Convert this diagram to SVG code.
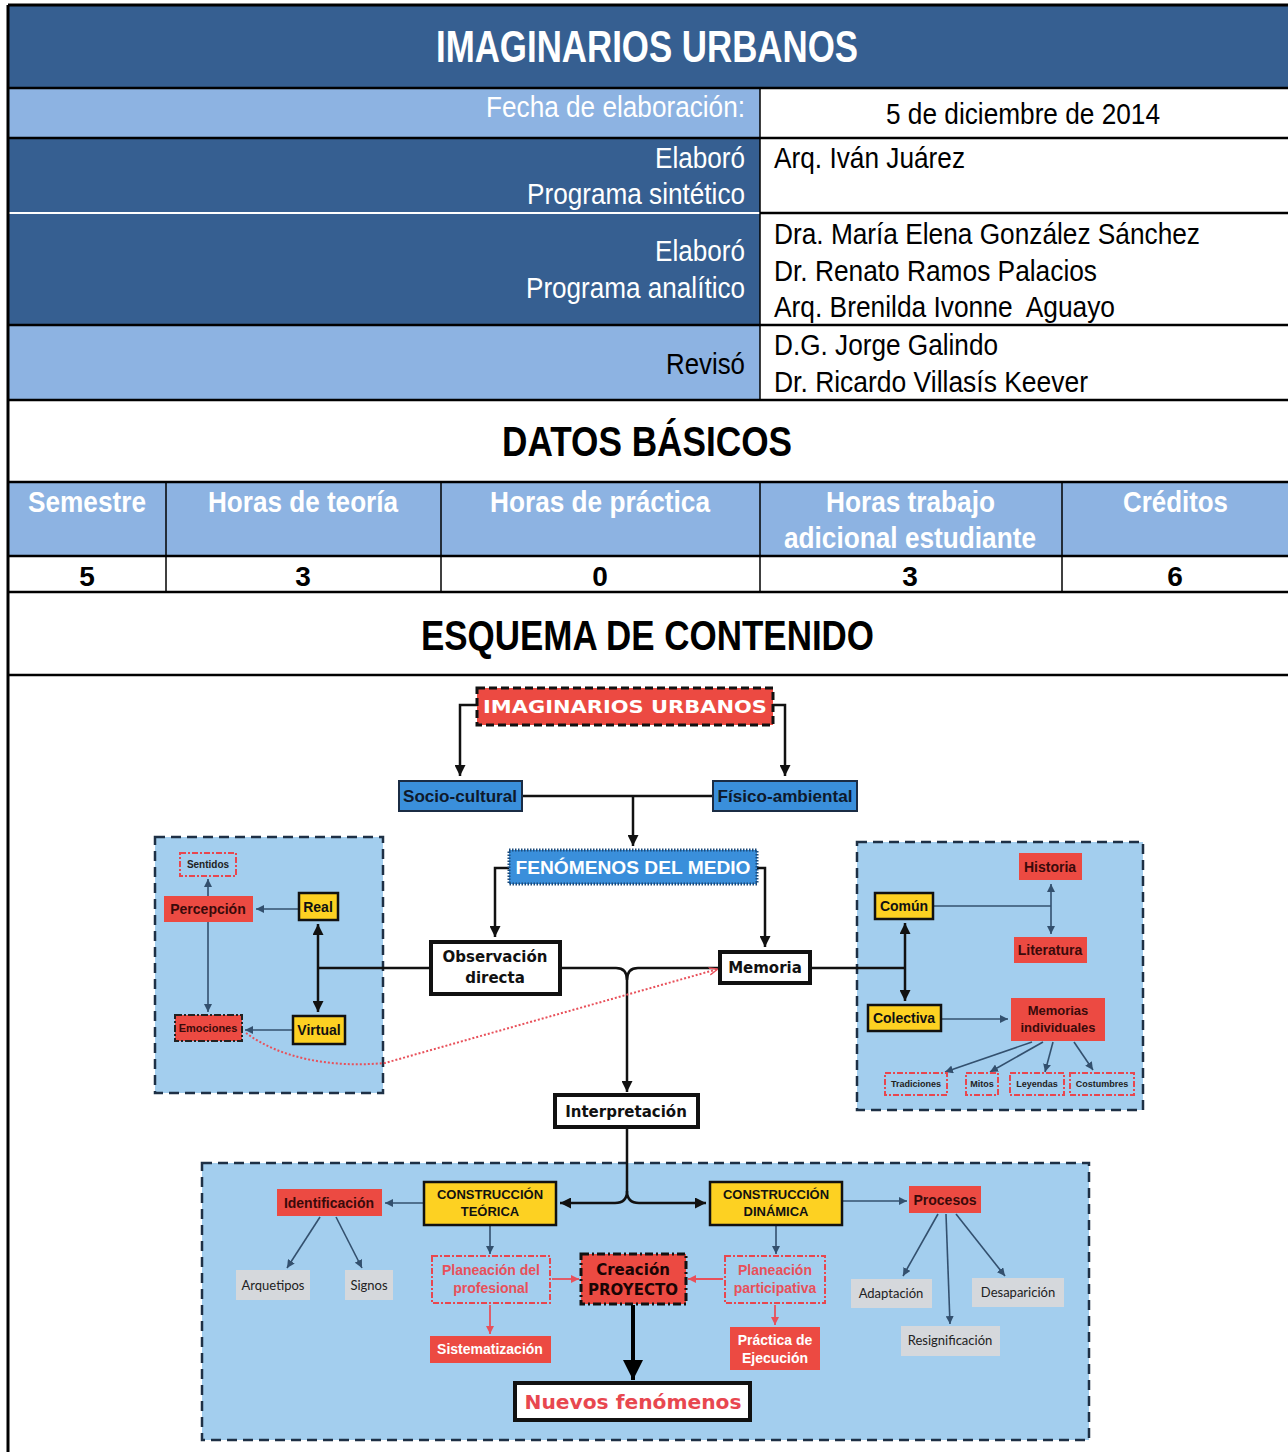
<svg xmlns="http://www.w3.org/2000/svg" width="1288" height="1452" viewBox="0 0 1288 1452">
<defs>
<style>
.tw{font-family:"Liberation Sans Narrow","Liberation Sans",Arial,sans-serif;font-size:30px;fill:#fff}
.tk{font-family:"Liberation Sans Narrow","Liberation Sans",Arial,sans-serif;font-size:30px;fill:#000}
.b{font-weight:bold}
.vb{font-family:"DejaVu Sans",Verdana,sans-serif;font-weight:bold}
.ab{font-family:"Liberation Sans",Arial,sans-serif;font-weight:bold}
.gr{font-family:"Lato","Noto Sans",sans-serif;font-size:13px;fill:#222}
.red{fill:#EC4A42}
.yel{fill:#FDD122;stroke:#111;stroke-width:2.5}
.gray{fill:#D5D8DC}
.dred{fill:none;stroke:#E8474F;stroke-width:2;stroke-dasharray:6 2 2 2}
.panel{fill:#A3CEEE;stroke:#1E3045;stroke-width:2.5;stroke-dasharray:10 6}
.cb{fill:none;stroke:#111;stroke-width:2.5}
.cn{fill:none;stroke:#33506E;stroke-width:1.6}
.cr{fill:none;stroke:#E8505A;stroke-width:1.8}
.hl{stroke:#000;stroke-width:2.5}
.vl{stroke:#000;stroke-width:1.5}
</style>
<marker id="aB" viewBox="0 0 10 10" refX="10" refY="5" markerWidth="11" markerHeight="11" markerUnits="userSpaceOnUse" orient="auto-start-reverse"><path d="M0,0 L10,5 L0,10 z" fill="#111"/></marker>
<marker id="aBig" viewBox="0 0 10 10" refX="10" refY="5" markerWidth="20" markerHeight="20" markerUnits="userSpaceOnUse" orient="auto"><path d="M0,0 L10,5 L0,10 z" fill="#000"/></marker>
<marker id="aN" viewBox="0 0 10 10" refX="10" refY="5" markerWidth="8" markerHeight="8" markerUnits="userSpaceOnUse" orient="auto-start-reverse"><path d="M0,0 L10,5 L0,10 z" fill="#33506E"/></marker>
<marker id="aR" viewBox="0 0 10 10" refX="10" refY="5" markerWidth="8" markerHeight="8" markerUnits="userSpaceOnUse" orient="auto"><path d="M0,0 L10,5 L0,10 z" fill="#E8505A"/></marker>
<marker id="aRo" viewBox="0 0 10 10" refX="10" refY="5" markerWidth="9" markerHeight="9" markerUnits="userSpaceOnUse" orient="auto"><path d="M0,1 L10,5 L0,9" fill="none" stroke="#E8505A" stroke-width="1.5"/></marker>
</defs>

<rect x="0" y="0" width="1288" height="1452" fill="#fff"/>

<g id="table">
<rect x="8" y="5" width="1280" height="83" fill="#365F91"/>
<rect x="8" y="88" width="752" height="50" fill="#8DB3E2"/>
<rect x="8" y="138" width="752" height="187" fill="#365F91"/>
<rect x="8" y="325" width="752" height="75" fill="#8DB3E2"/>
<rect x="8" y="482" width="1280" height="74" fill="#8DB3E2"/>

<line x1="8" y1="5" x2="1288" y2="5" stroke="#000" stroke-width="3"/>
<line class="hl" x1="8" y1="88" x2="1288" y2="88" stroke-width="3"/>
<line class="hl" x1="8" y1="138" x2="1288" y2="138"/>
<line x1="8" y1="213" x2="760" y2="213" stroke="#fff" stroke-width="2"/>
<line class="hl" x1="760" y1="213" x2="1288" y2="213"/>
<line class="hl" x1="8" y1="325" x2="1288" y2="325"/>
<line class="hl" x1="8" y1="400" x2="1288" y2="400"/>
<line class="hl" x1="8" y1="482" x2="1288" y2="482" stroke-width="3"/>
<line class="hl" x1="8" y1="556" x2="1288" y2="556" stroke-width="1.8"/>
<line class="hl" x1="8" y1="592" x2="1288" y2="592" stroke-width="3"/>
<line class="hl" x1="8" y1="675" x2="1288" y2="675" stroke-width="3"/>
<line x1="8" y1="5" x2="8" y2="1452" stroke="#000" stroke-width="3"/>
<line class="vl" x1="760" y1="88" x2="760" y2="400" stroke-width="2"/>
<line class="vl" x1="166" y1="482" x2="166" y2="592"/>
<line class="vl" x1="441" y1="482" x2="441" y2="592"/>
<line class="vl" x1="760" y1="482" x2="760" y2="592"/>
<line class="vl" x1="1062" y1="482" x2="1062" y2="592"/>

<text class="tw b" x="436" y="62" textLength="422" lengthAdjust="spacingAndGlyphs" style="font-size:45px">IMAGINARIOS URBANOS</text>
<text class="tw" x="486" y="117" textLength="259" lengthAdjust="spacingAndGlyphs">Fecha de elaboración:</text>
<text class="tk" x="886" y="124" textLength="274" lengthAdjust="spacingAndGlyphs">5 de diciembre de 2014</text>
<text class="tw" x="655" y="168" textLength="90" lengthAdjust="spacingAndGlyphs">Elaboró</text>
<text class="tw" x="527" y="204" textLength="218" lengthAdjust="spacingAndGlyphs">Programa sintético</text>
<text class="tk" x="774" y="168" textLength="191" lengthAdjust="spacingAndGlyphs">Arq. Iván Juárez</text>
<text class="tw" x="655" y="261" textLength="90" lengthAdjust="spacingAndGlyphs">Elaboró</text>
<text class="tw" x="526" y="298" textLength="219" lengthAdjust="spacingAndGlyphs">Programa analítico</text>
<text class="tk" x="774" y="244" textLength="426" lengthAdjust="spacingAndGlyphs">Dra. María Elena González Sánchez</text>
<text class="tk" x="774" y="281" textLength="323" lengthAdjust="spacingAndGlyphs">Dr. Renato Ramos Palacios</text>
<text class="tk" x="774" y="317" textLength="341" lengthAdjust="spacingAndGlyphs" xml:space="preserve">Arq. Brenilda Ivonne  Aguayo</text>
<text class="tk" x="666" y="374" textLength="79" lengthAdjust="spacingAndGlyphs">Revisó</text>
<text class="tk" x="774" y="355" textLength="224" lengthAdjust="spacingAndGlyphs">D.G. Jorge Galindo</text>
<text class="tk" x="774" y="392" textLength="314" lengthAdjust="spacingAndGlyphs">Dr. Ricardo Villasís Keever</text>
<text class="tk b" x="502" y="456" textLength="290" lengthAdjust="spacingAndGlyphs" style="font-size:42px">DATOS BÁSICOS</text>
<text class="tw b" x="28" y="512" textLength="118" lengthAdjust="spacingAndGlyphs">Semestre</text>
<text class="tw b" x="208" y="512" textLength="190" lengthAdjust="spacingAndGlyphs">Horas de teoría</text>
<text class="tw b" x="490" y="512" textLength="220" lengthAdjust="spacingAndGlyphs">Horas de práctica</text>
<text class="tw b" x="826" y="512" textLength="169" lengthAdjust="spacingAndGlyphs">Horas trabajo</text>
<text class="tw b" x="784" y="548" textLength="252" lengthAdjust="spacingAndGlyphs">adicional estudiante</text>
<text class="tw b" x="1123" y="512" textLength="105" lengthAdjust="spacingAndGlyphs">Créditos</text>
<g class="tk b" text-anchor="middle" style="font-size:28px">
<text x="87" y="586">5</text>
<text x="303" y="586">3</text>
<text x="600" y="586">0</text>
<text x="910" y="586">3</text>
<text x="1175" y="586">6</text>
</g>
<text class="tk b" x="421" y="650" textLength="453" lengthAdjust="spacingAndGlyphs" style="font-size:42px">ESQUEMA DE CONTENIDO</text>
</g>

<g id="panels">
<rect class="panel" x="155" y="837" width="228" height="256"/>
<rect class="panel" x="857" y="842" width="286" height="268"/>
<rect class="panel" x="202" y="1163" width="887" height="277"/>
</g>

<g id="connectors">
<path class="cb" d="M477,705 H460 V776" marker-end="url(#aB)"/>
<path class="cb" d="M773,705 H785 V776" marker-end="url(#aB)"/>
<path class="cb" d="M522,796 H713"/>
<path class="cb" d="M633,796 V846" marker-end="url(#aB)"/>
<path class="cb" d="M509,868 H495 V937" marker-end="url(#aB)"/>
<path class="cb" d="M757,868 H765 V947" marker-end="url(#aB)"/>
<path class="cb" d="M318,968 H431"/>
<path class="cb" d="M810,968 H905"/>
<path class="cb" d="M560,968 H616 Q627,968 627,980 V1092" marker-end="url(#aB)"/>
<path class="cb" d="M720,968 H638 Q627,968 627,980"/>
<path class="cb" d="M627,1127 V1191 Q627,1203 615,1203 H560" marker-end="url(#aB)"/>
<path class="cb" d="M627,1191 Q627,1203 639,1203 H706" marker-end="url(#aB)"/>
<path class="cb" d="M318,924 V1012" stroke-width="3" marker-start="url(#aB)" marker-end="url(#aB)"/>
<path class="cb" d="M905,923 V1001" stroke-width="3" marker-start="url(#aB)" marker-end="url(#aB)"/>
<path class="cn" d="M299,909 H256" marker-end="url(#aN)"/>
<path class="cn" d="M208,896 V879" marker-end="url(#aN)"/>
<path class="cn" d="M208,922 V1012" marker-end="url(#aN)"/>
<path class="cn" d="M293,1030 H245" marker-end="url(#aN)"/>
<path class="cn" d="M933,906 H1051"/>
<path class="cn" d="M1051,884 V934" marker-start="url(#aN)" marker-end="url(#aN)"/>
<path class="cn" d="M941,1019 H1008" marker-end="url(#aN)"/>
<path class="cn" d="M1032,1042 L945,1072" marker-end="url(#aN)"/>
<path class="cn" d="M1043,1042 L990,1072" marker-end="url(#aN)"/>
<path class="cn" d="M1053,1042 L1045,1072" marker-end="url(#aN)"/>
<path class="cn" d="M1074,1042 L1093,1070" marker-end="url(#aN)"/>
<path d="M246,1033 C280,1058 330,1068 385,1063 L718,969" fill="none" stroke="#E8505A" stroke-width="2" stroke-dasharray="2 2" marker-end="url(#aRo)"/>
<path class="cn" d="M424,1203 H385" marker-end="url(#aN)"/>
<path class="cn" d="M320,1217 L287,1268" marker-end="url(#aN)"/>
<path class="cn" d="M336,1217 L362,1268" marker-end="url(#aN)"/>
<path class="cn" d="M490,1226 V1254" marker-end="url(#aN)"/>
<path class="cn" d="M776,1226 V1254" marker-end="url(#aN)"/>
<path class="cn" d="M842,1201 H907" marker-end="url(#aN)"/>
<path class="cn" d="M938,1214 L903,1276" marker-end="url(#aN)"/>
<path class="cn" d="M946,1214 L950,1324" marker-end="url(#aN)"/>
<path class="cn" d="M956,1214 L1005,1276" marker-end="url(#aN)"/>
<path class="cr" d="M552,1279 H579" marker-end="url(#aR)"/>
<path class="cr" d="M723,1279 H688" marker-end="url(#aR)"/>
<path class="cr" d="M490,1305 V1334" marker-end="url(#aR)"/>
<path class="cr" d="M775,1305 V1325" marker-end="url(#aR)"/>
<path d="M633,1305 V1380" fill="none" stroke="#000" stroke-width="4" marker-end="url(#aBig)"/>
</g>

<g id="n-imaginarios">
<rect x="477" y="688" width="296" height="37" fill="#EC4A42" stroke="#111" stroke-width="3" stroke-dasharray="8 4"/>
<text class="vb" x="625" y="713" text-anchor="middle" font-size="18" fill="#fff" textLength="284" lengthAdjust="spacingAndGlyphs">IMAGINARIOS URBANOS</text>
</g>
<g id="n-socio">
<rect x="399" y="781" width="123" height="30" fill="#3A8FDB" stroke="#1B2C44" stroke-width="2"/>
<text class="ab" x="460" y="802" text-anchor="middle" font-size="16.5" fill="#0E1A2C" textLength="114" lengthAdjust="spacingAndGlyphs">Socio-cultural</text>
</g>
<g id="n-fisico">
<rect x="713" y="781" width="144" height="30" fill="#3A8FDB" stroke="#1B2C44" stroke-width="2"/>
<text class="ab" x="785" y="802" text-anchor="middle" font-size="16.5" fill="#0E1A2C" textLength="135" lengthAdjust="spacingAndGlyphs">Físico-ambiental</text>
</g>
<g id="n-fenomenos">
<rect x="509" y="850" width="248" height="34" fill="#3A8FDB" stroke="#1B4A7A" stroke-width="3" stroke-dasharray="1.5 1.5"/>
<text class="ab" x="633" y="874" text-anchor="middle" font-size="19" fill="#fff" textLength="235" lengthAdjust="spacingAndGlyphs">FENÓMENOS DEL MEDIO</text>
</g>
<g id="n-observacion">
<rect x="431" y="942" width="129" height="52" fill="#fff" stroke="#111" stroke-width="4"/>
<text class="vb" x="495" y="962" text-anchor="middle" font-size="15" fill="#111">Observación</text>
<text class="vb" x="495" y="983" text-anchor="middle" font-size="15" fill="#111">directa</text>
</g>
<g id="n-memoria">
<rect x="720" y="952" width="90" height="31" fill="#fff" stroke="#111" stroke-width="4"/>
<text class="vb" x="765" y="973" text-anchor="middle" font-size="15" fill="#111">Memoria</text>
</g>
<g id="n-interpretacion">
<rect x="555" y="1095" width="143" height="32" fill="#fff" stroke="#111" stroke-width="4"/>
<text class="vb" x="626" y="1117" text-anchor="middle" font-size="15" fill="#111">Interpretación</text>
</g>

<g id="n-sentidos">
<rect class="dred" x="180" y="853" width="56" height="23"/>
<text class="ab" x="208" y="868" text-anchor="middle" font-size="10" fill="#222">Sentidos</text>
</g>
<g id="n-percepcion">
<rect class="red" x="164" y="896" width="89" height="26"/>
<text class="ab" x="208" y="914" text-anchor="middle" font-size="14" fill="#3A0A0A">Percepción</text>
</g>
<g id="n-real">
<rect class="yel" x="299" y="893" width="39" height="27"/>
<text class="ab" x="318" y="912" text-anchor="middle" font-size="14" fill="#111">Real</text>
</g>
<g id="n-virtual">
<rect class="yel" x="293" y="1016" width="52" height="28"/>
<text class="ab" x="319" y="1035" text-anchor="middle" font-size="14" fill="#111">Virtual</text>
</g>
<g id="n-emociones">
<rect x="175" y="1015" width="67" height="26" fill="#EC4A42" stroke="#222" stroke-width="2" stroke-dasharray="7 2 2 2"/>
<text class="ab" x="208" y="1032" text-anchor="middle" font-size="11" fill="#3A0A0A">Emociones</text>
</g>

<g id="n-historia">
<rect class="red" x="1019" y="853" width="63" height="27"/>
<text class="ab" x="1050" y="872" text-anchor="middle" font-size="14" fill="#3A0A0A">Historia</text>
</g>
<g id="n-comun">
<rect class="yel" x="875" y="893" width="58" height="26"/>
<text class="ab" x="904" y="911" text-anchor="middle" font-size="14" fill="#111">Común</text>
</g>
<g id="n-literatura">
<rect class="red" x="1014" y="937" width="73" height="26"/>
<text class="ab" x="1050" y="955" text-anchor="middle" font-size="14" fill="#3A0A0A">Literatura</text>
</g>
<g id="n-colectiva">
<rect class="yel" x="868" y="1005" width="73" height="26"/>
<text class="ab" x="904" y="1023" text-anchor="middle" font-size="14" fill="#111">Colectiva</text>
</g>
<g id="n-memorias">
<rect class="red" x="1011" y="998" width="94" height="43"/>
<text class="ab" x="1058" y="1015" text-anchor="middle" font-size="13" fill="#3A0A0A">Memorias</text>
<text class="ab" x="1058" y="1032" text-anchor="middle" font-size="13" fill="#3A0A0A">individuales</text>
</g>
<g id="n-tradiciones">
<rect class="dred" x="885" y="1073" width="62" height="22"/>
<text class="ab" x="916" y="1087" text-anchor="middle" font-size="9" fill="#222">Tradiciones</text>
</g>
<g id="n-mitos">
<rect class="dred" x="966" y="1073" width="32" height="22"/>
<text class="ab" x="982" y="1087" text-anchor="middle" font-size="9" fill="#222">Mitos</text>
</g>
<g id="n-leyendas">
<rect class="dred" x="1010" y="1073" width="54" height="22"/>
<text class="ab" x="1037" y="1087" text-anchor="middle" font-size="9" fill="#222">Leyendas</text>
</g>
<g id="n-costumbres">
<rect class="dred" x="1070" y="1073" width="64" height="22"/>
<text class="ab" x="1102" y="1087" text-anchor="middle" font-size="9" fill="#222">Costumbres</text>
</g>

<g id="n-teorica">
<rect class="yel" x="424" y="1182" width="132" height="43"/>
<text class="ab" x="490" y="1199" text-anchor="middle" font-size="13" fill="#111">CONSTRUCCIÓN</text>
<text class="ab" x="490" y="1216" text-anchor="middle" font-size="13" fill="#111">TEÓRICA</text>
</g>
<g id="n-identificacion">
<rect class="red" x="277" y="1189" width="105" height="27"/>
<text class="ab" x="329" y="1208" text-anchor="middle" font-size="14" fill="#3A0A0A">Identificación</text>
</g>
<g id="n-arquetipos">
<rect class="gray" x="236" y="1270" width="74" height="30"/>
<text class="gr" x="273" y="1290" text-anchor="middle">Arquetipos</text>
</g>
<g id="n-signos">
<rect class="gray" x="345" y="1270" width="48" height="30"/>
<text class="gr" x="369" y="1290" text-anchor="middle">Signos</text>
</g>
<g id="n-plan-prof">
<rect class="dred" x="432" y="1256" width="118" height="47"/>
<text class="ab" x="491" y="1275" text-anchor="middle" font-size="14" fill="#E8505A">Planeación del</text>
<text class="ab" x="491" y="1293" text-anchor="middle" font-size="14" fill="#E8505A">profesional</text>
</g>
<g id="n-sistematizacion">
<rect class="red" x="430" y="1336" width="121" height="27"/>
<text class="ab" x="490" y="1354" text-anchor="middle" font-size="14" fill="#fff">Sistematización</text>
</g>
<g id="n-creacion">
<rect x="581" y="1254" width="105" height="50" fill="#EC4A42" stroke="#111" stroke-width="3" stroke-dasharray="8 3 2 3"/>
<text class="vb" x="633" y="1275" text-anchor="middle" font-size="15" fill="#1A0505">Creación</text>
<text class="vb" x="633" y="1295" text-anchor="middle" font-size="15" fill="#1A0505">PROYECTO</text>
</g>
<g id="n-nuevos">
<rect x="515" y="1383" width="235" height="37" fill="#fff" stroke="#111" stroke-width="4"/>
<text class="vb" x="633" y="1409" text-anchor="middle" font-size="19" fill="#E8474F" textLength="217" lengthAdjust="spacingAndGlyphs">Nuevos fenómenos</text>
</g>
<g id="n-dinamica">
<rect class="yel" x="710" y="1182" width="132" height="43"/>
<text class="ab" x="776" y="1199" text-anchor="middle" font-size="13" fill="#111">CONSTRUCCIÓN</text>
<text class="ab" x="776" y="1216" text-anchor="middle" font-size="13" fill="#111">DINÁMICA</text>
</g>
<g id="n-procesos">
<rect class="red" x="909" y="1186" width="72" height="27"/>
<text class="ab" x="945" y="1205" text-anchor="middle" font-size="14" fill="#3A0A0A">Procesos</text>
</g>
<g id="n-plan-part">
<rect class="dred" x="725" y="1256" width="100" height="47"/>
<text class="ab" x="775" y="1275" text-anchor="middle" font-size="14" fill="#E8505A">Planeación</text>
<text class="ab" x="775" y="1293" text-anchor="middle" font-size="14" fill="#E8505A">participativa</text>
</g>
<g id="n-practica">
<rect class="red" x="730" y="1327" width="90" height="43"/>
<text class="ab" x="775" y="1345" text-anchor="middle" font-size="14" fill="#fff">Práctica de</text>
<text class="ab" x="775" y="1363" text-anchor="middle" font-size="14" fill="#fff">Ejecución</text>
</g>
<g id="n-adaptacion">
<rect class="gray" x="851" y="1279" width="81" height="29"/>
<text class="gr" x="891" y="1298" text-anchor="middle">Adaptación</text>
</g>
<g id="n-desaparicion">
<rect class="gray" x="972" y="1278" width="92" height="29"/>
<text class="gr" x="1018" y="1297" text-anchor="middle">Desaparición</text>
</g>
<g id="n-resignificacion">
<rect class="gray" x="901" y="1326" width="99" height="30"/>
<text class="gr" x="950" y="1345" text-anchor="middle">Resignificación</text>
</g>
</svg>
